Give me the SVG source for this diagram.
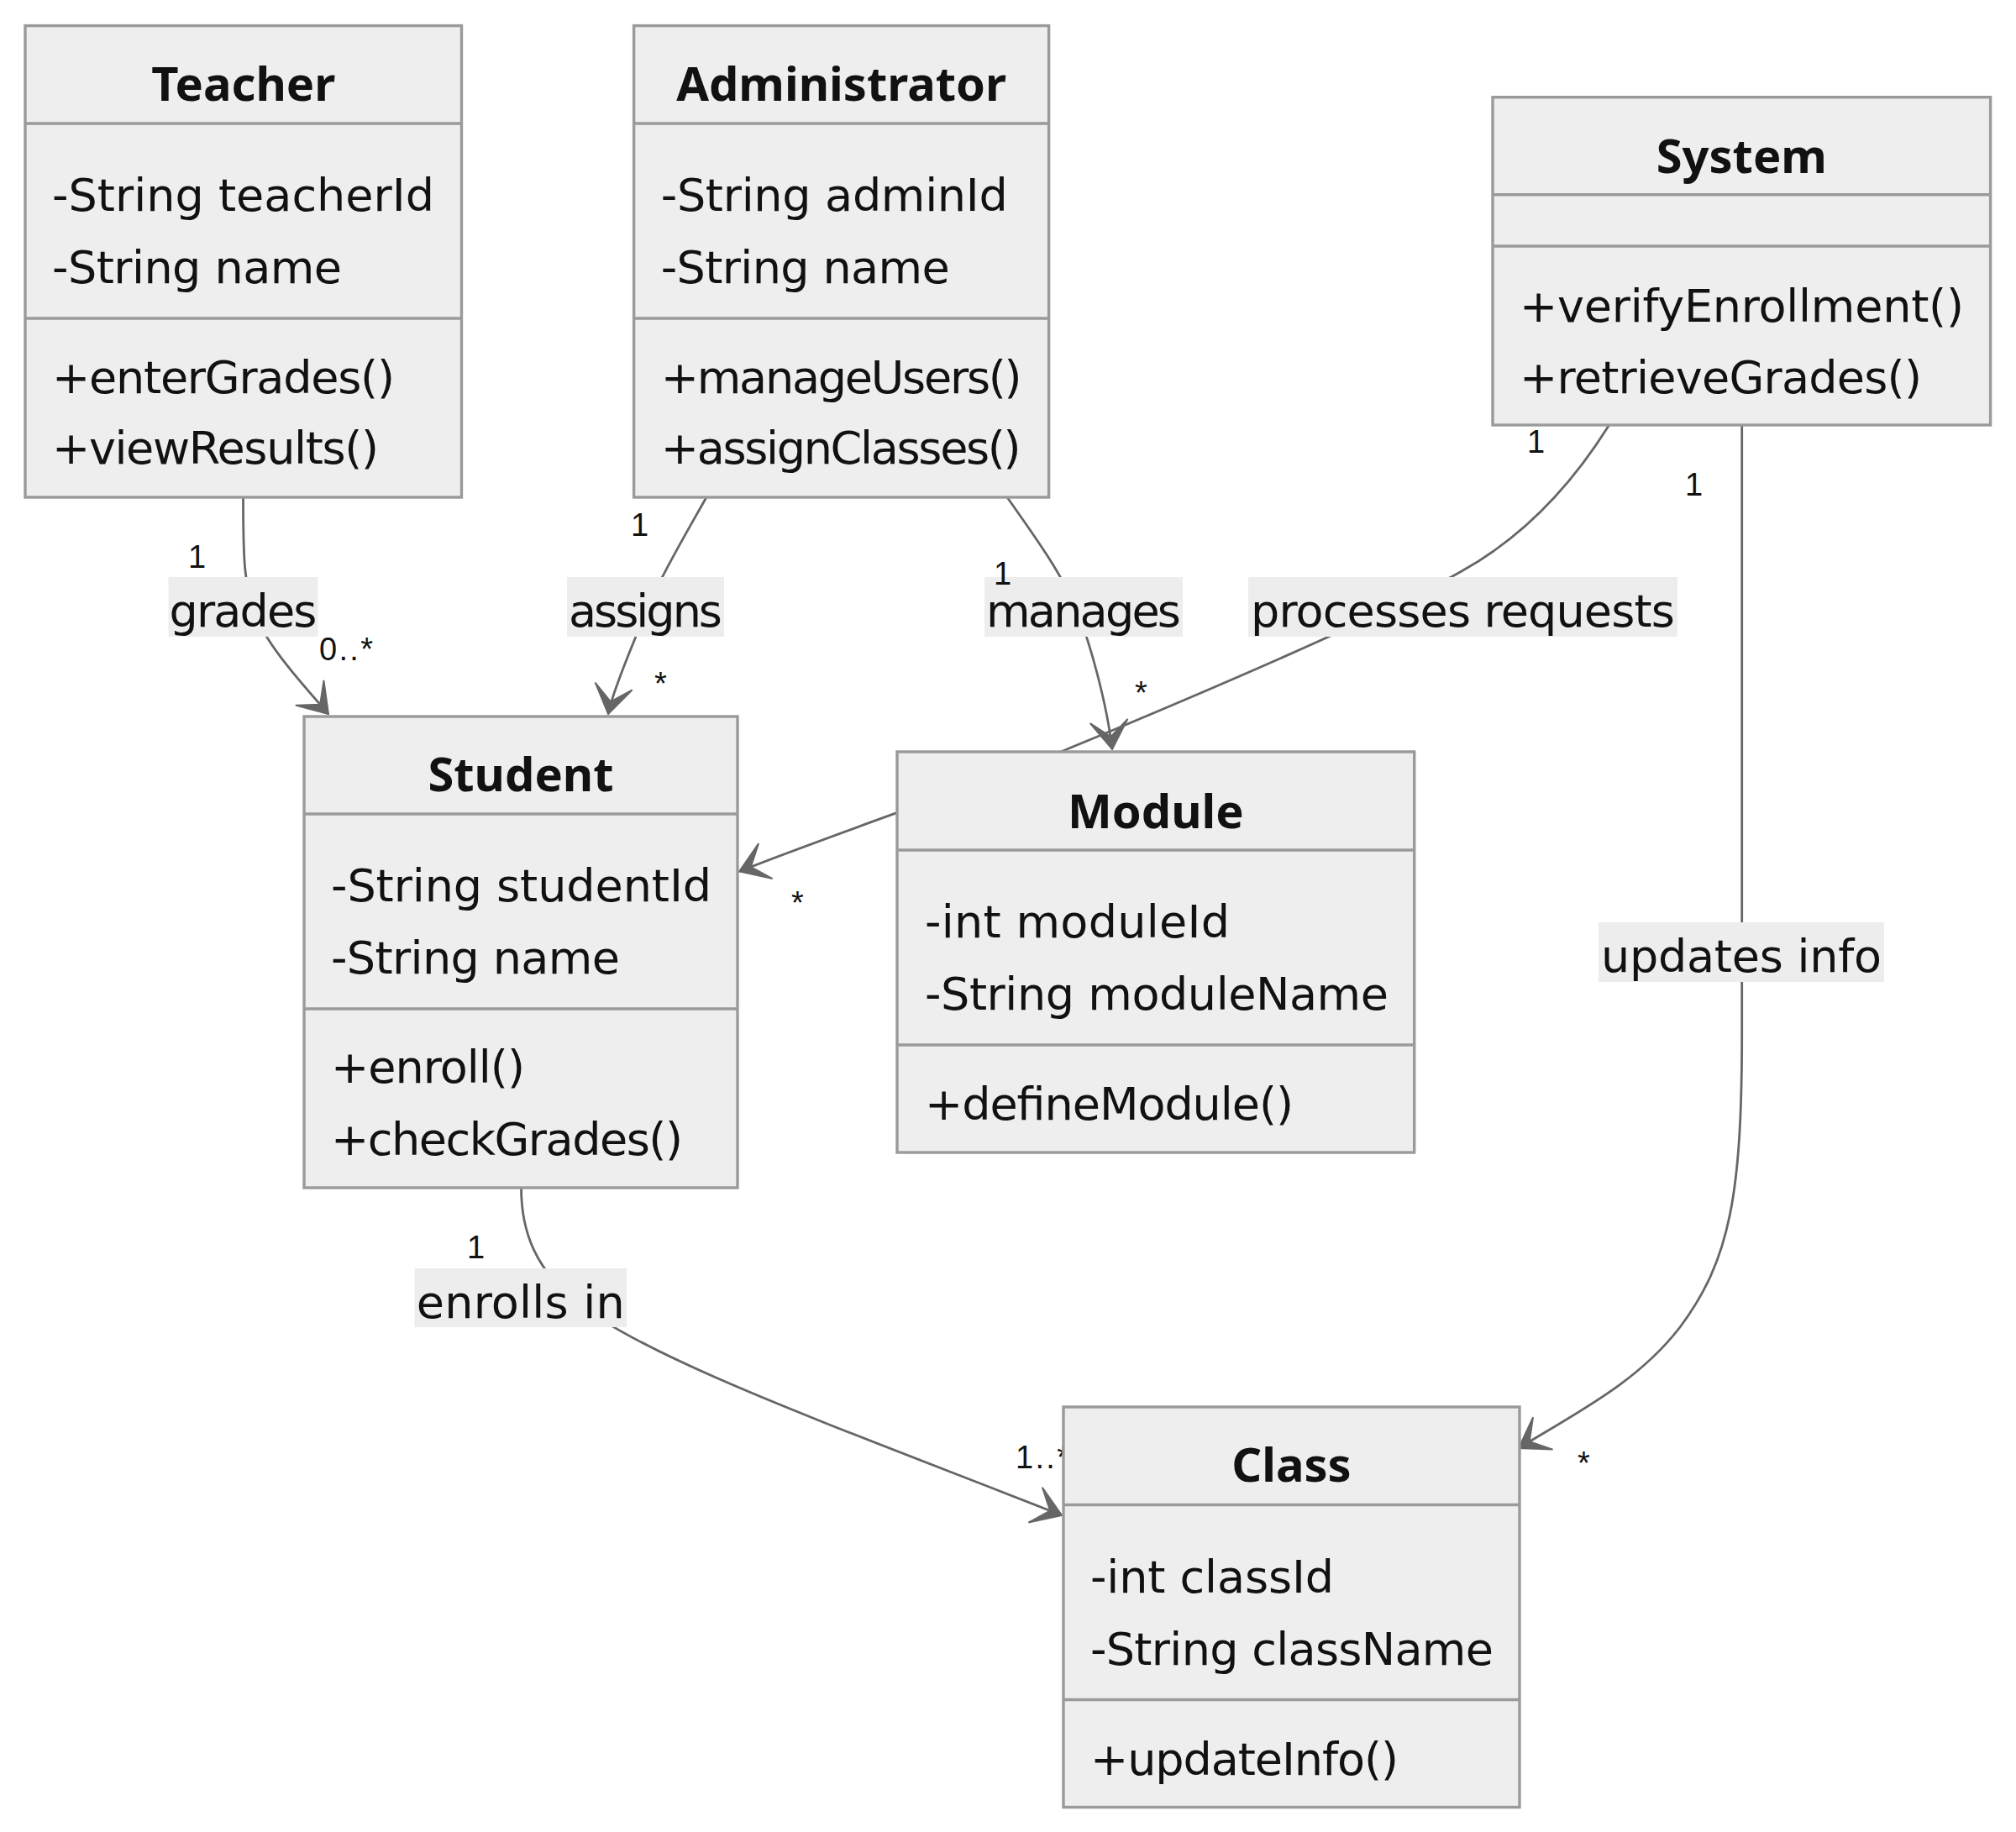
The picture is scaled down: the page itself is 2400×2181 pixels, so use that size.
<svg xmlns="http://www.w3.org/2000/svg" width="2400" height="2181" viewBox="0 0 2400 2181">
<style>
.box{fill:#eeeeee;stroke:#9a9a9a;stroke-width:3.4}
.div{stroke:#9a9a9a;stroke-width:3.4}
.title{font-family:"Noto Sans","DejaVu Sans",sans-serif;font-weight:bold;font-size:56px;fill:#111;text-anchor:middle}
.mem{font-family:"DejaVu Sans",sans-serif;font-size:54px;fill:#111}
.edge{fill:none;stroke:#666;stroke-width:2.8}
.lblbg{fill:#ededed}
.lbl{font-family:"DejaVu Sans",sans-serif;font-size:54px;fill:#111;text-anchor:middle}
.card{font-family:"Liberation Sans",Arial,sans-serif;font-size:38px;fill:#111}
</style>
<defs>
<marker id="arr" markerUnits="userSpaceOnUse" viewBox="0 0 20 14" markerWidth="75" markerHeight="52.5" refX="18" refY="7" orient="auto">
<path d="M18,7 L9,13 L14,7 L9,1 Z" fill="#666" stroke="#666" stroke-width="0.5"/>
</marker>
</defs>
<rect width="2400" height="2181" fill="#ffffff"/>

<g id="connectors">
<path class="edge" marker-end="url(#arr)" d="M289.5,592 C289.5,660 290,700 305,735 S360,815 391,850"/>
<path class="edge" marker-end="url(#arr)" d="M841,592 C815,638 790,680 775,715 S730,820 724,850"/>
<path class="edge" marker-end="url(#arr)" d="M1199,592 C1230,636 1262,680 1280,722 S1318,840 1324,892"/>
<path class="edge" marker-end="url(#arr)" d="M1915.6,506 C1885,555 1830,630 1740,680 C1640,737 1420,830 1263,895 C1150,940 1000,990 880,1037.5"/>
<path class="edge" marker-end="url(#arr)" d="M2073.7,506 L2073.7,1230 C2073.7,1420 2060,1500 2000,1580 C1950,1645 1880,1680 1808,1724"/>
<path class="edge" marker-end="url(#arr)" d="M620.5,1414 C620.5,1470 640,1510 680,1545 C760,1615 1000,1700 1264,1804"/>

<rect class="lblbg" x="200.5" y="687" width="178" height="71"/>
<text class="lbl" x="289.5" y="746" textLength="176">grades</text>
<rect class="lblbg" x="675" y="687" width="187" height="71"/>
<text class="lbl" x="768.5" y="746" textLength="183">assigns</text>
<rect class="lblbg" x="1172" y="687" width="236" height="71"/>
<text class="lbl" x="1290" y="746" textLength="232">manages</text>
<rect class="lblbg" x="1486" y="687" width="511" height="71"/>
<text class="lbl" x="1741.5" y="746" textLength="505">processes requests</text>
<rect class="lblbg" x="1903" y="1098" width="340" height="71"/>
<text class="lbl" x="2073" y="1157" textLength="334">updates info</text>
<rect class="lblbg" x="493.5" y="1510" width="252.5" height="70"/>
<text class="lbl" x="619.75" y="1569" textLength="248">enrolls in</text>

<text class="card" x="224" y="676">1</text>
<text class="card" x="380" y="786" textLength="64">0..*</text>
<text class="card" x="751" y="638">1</text>
<text class="card" x="779" y="827">*</text>
<text class="card" x="1183" y="696">1</text>
<text class="card" x="1351" y="838">*</text>
<text class="card" x="1818" y="539">1</text>
<text class="card" x="942" y="1088">*</text>
<text class="card" x="2006" y="590">1</text>
<text class="card" x="1878" y="1755">*</text>
<text class="card" x="556" y="1498">1</text>
<text class="card" x="1209" y="1748" textLength="64">1..*</text>
</g>

<g id="Teacher">
<rect class="box" x="30" y="30.6" width="519.5" height="561.4"/>
<line class="div" x1="30" y1="147" x2="549.5" y2="147"/>
<line class="div" x1="30" y1="379" x2="549.5" y2="379"/>
<text class="title" x="289.75" y="120">Teacher</text>
<text class="mem" x="62" y="251" textLength="455">-String teacherId</text>
<text class="mem" x="62" y="337" textLength="345">-String name</text>
<text class="mem" x="62" y="468" textLength="408">+enterGrades()</text>
<text class="mem" x="62" y="552" textLength="389">+viewResults()</text>
</g>

<g id="Administrator">
<rect class="box" x="754.6" y="30.6" width="494" height="561.4"/>
<line class="div" x1="754.6" y1="147" x2="1248.6" y2="147"/>
<line class="div" x1="754.6" y1="379" x2="1248.6" y2="379"/>
<text class="title" x="1001.6" y="120">Administrator</text>
<text class="mem" x="786.7" y="251" textLength="413">-String adminId</text>
<text class="mem" x="786.7" y="337" textLength="344">-String name</text>
<text class="mem" x="786.7" y="468" textLength="430">+manageUsers()</text>
<text class="mem" x="786.7" y="552" textLength="429">+assignClasses()</text>
</g>

<g id="System">
<rect class="box" x="1777" y="115.7" width="592.6" height="390.3"/>
<line class="div" x1="1777" y1="231.8" x2="2369.6" y2="231.8"/>
<line class="div" x1="1777" y1="293" x2="2369.6" y2="293"/>
<text class="title" x="2073.3" y="206">System</text>
<text class="mem" x="1809" y="382.5" textLength="529">+verifyEnrollment()</text>
<text class="mem" x="1809" y="468" textLength="479">+retrieveGrades()</text>
</g>

<g id="Student">
<rect class="box" x="362" y="853" width="516" height="561"/>
<line class="div" x1="362" y1="969" x2="878" y2="969"/>
<line class="div" x1="362" y1="1201" x2="878" y2="1201"/>
<text class="title" x="620" y="941.6">Student</text>
<text class="mem" x="394" y="1072.5" textLength="453">-String studentId</text>
<text class="mem" x="394" y="1158.5" textLength="344">-String name</text>
<text class="mem" x="394" y="1289" textLength="231">+enroll()</text>
<text class="mem" x="394" y="1375" textLength="419">+checkGrades()</text>
</g>

<g id="Module">
<rect class="box" x="1068" y="895" width="615.7" height="477"/>
<line class="div" x1="1068" y1="1012" x2="1683.7" y2="1012"/>
<line class="div" x1="1068" y1="1244" x2="1683.7" y2="1244"/>
<text class="title" x="1375.85" y="985.6">Module</text>
<text class="mem" x="1101" y="1115.7" textLength="363">-int moduleId</text>
<text class="mem" x="1101" y="1201.5" textLength="552">-String moduleName</text>
<text class="mem" x="1101" y="1332.5" textLength="439">+defineModule()</text>
</g>

<g id="Class">
<rect class="box" x="1266" y="1675" width="543" height="476.5"/>
<line class="div" x1="1266" y1="1791.5" x2="1809" y2="1791.5"/>
<line class="div" x1="1266" y1="2023.5" x2="1809" y2="2023.5"/>
<text class="title" x="1537.5" y="1764">Class</text>
<text class="mem" x="1298" y="1895.5" textLength="290">-int classId</text>
<text class="mem" x="1298" y="1981.5" textLength="480">-String className</text>
<text class="mem" x="1298" y="2112.5" textLength="367">+updateInfo()</text>
</g>
</svg>
